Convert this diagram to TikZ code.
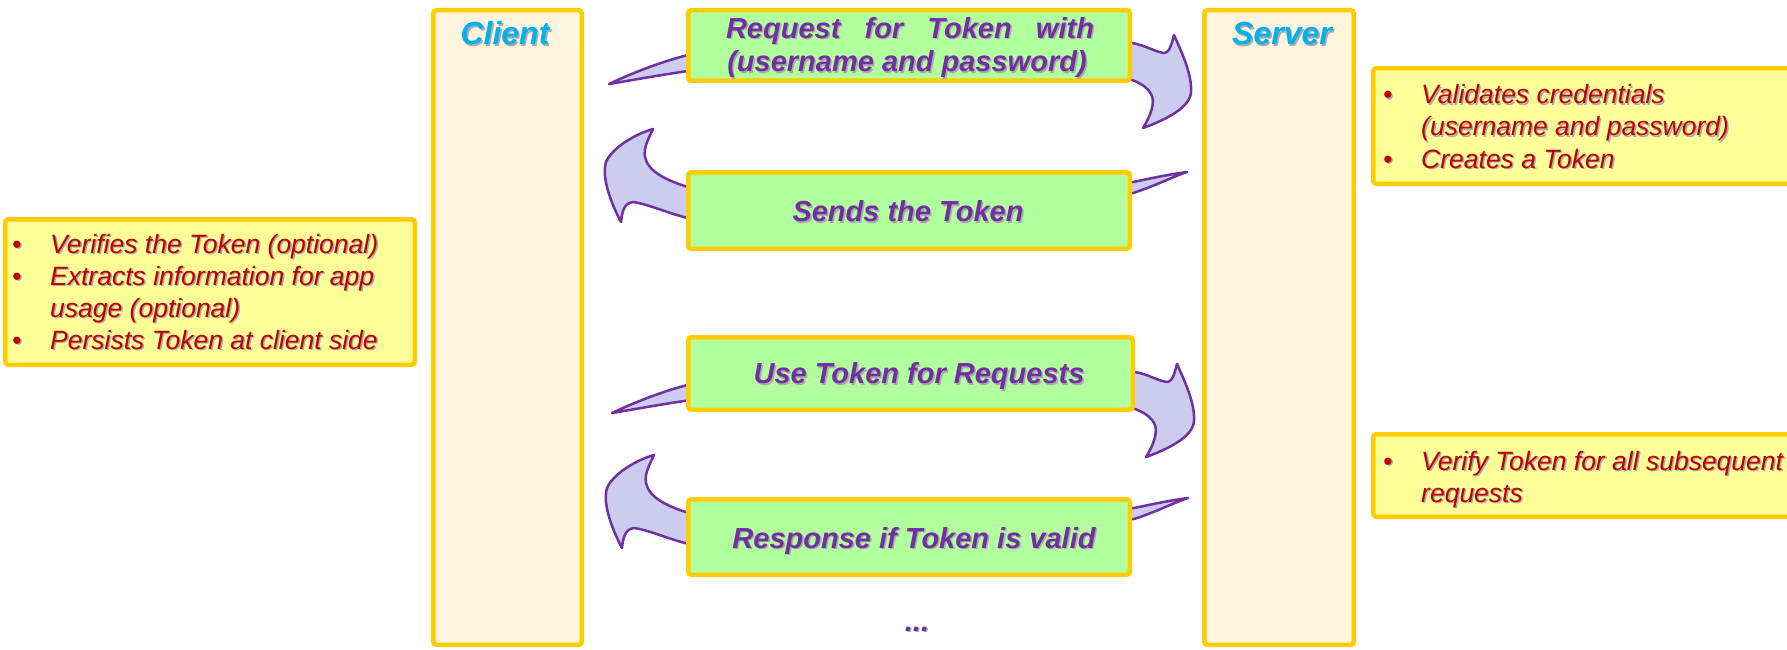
\documentclass[tikz,border=0pt]{standalone}
\usepackage{fontspec}
\setmainfont{Liberation Sans}

\definecolor{goldframe}{RGB}{255,204,0}
\definecolor{lanefill}{RGB}{255,245,220}
\definecolor{stepfill}{RGB}{178,255,158}
\definecolor{notefill}{RGB}{255,255,153}
\definecolor{msgpurple}{RGB}{112,48,160}
\definecolor{arrowfill}{RGB}{204,204,238}
\definecolor{notered}{RGB}{192,0,0}
\definecolor{headblue}{RGB}{0,176,240}
\definecolor{shadowgray}{RGB}{170,170,170}

% text with a soft drop shadow
\newcommand\softshadow[1]{\leavevmode\rlap{\kern1.5pt\raisebox{-1.5pt}{\textcolor{shadowgray}{#1}}}#1}

% curved arrow going from client to server (tail on the left, head bending down on the right)
\newcommand\fwdarrow{(609,84) .. controls (630,74) and (660,62) .. (688,55) -- (1132,43)
  .. controls (1145,45) and (1157,53) .. (1165,53)
  .. controls (1170,52) and (1172,42) .. (1174,35)
  .. controls (1183,55) and (1192,75) .. (1191,92)
  .. controls (1190,108) and (1165,120) .. (1143,128)
  .. controls (1150,117) and (1156,102) .. (1151,94)
  .. controls (1147,87) and (1140,83) .. (1132,80) -- (688,71)
  .. controls (660,75) and (633,80) .. (609,84) -- cycle}

% curved arrow going from server to client (tail on the right, head bending up on the left)
\newcommand\backarrow{(1187,172) .. controls (1165,175) and (1148,179) .. (1133,182) -- (688,187)
  .. controls (668,181) and (648,172) .. (645,157)
  .. controls (643,147) and (650,136) .. (653,129)
  .. controls (635,134) and (612,148) .. (606,162)
  .. controls (601,178) and (612,205) .. (621,222)
  .. controls (622,212) and (624,203) .. (633,202)
  .. controls (648,204) and (670,214) .. (688,218) -- (1133,193)
  .. controls (1155,186) and (1172,177) .. (1187,172) -- cycle}

\tikzset{
  lane/.style={draw=goldframe, line width=4.5pt, fill=lanefill, rounded corners=3pt},
  stepbox/.style={draw=goldframe, line width=4.5pt, fill=stepfill, rounded corners=3pt},
  notebox/.style={draw=goldframe, line width=4.5pt, fill=notefill, rounded corners=3pt},
  flow/.style={draw=msgpurple, line width=2.5pt, fill=arrowfill, line join=round},
  steptext/.style={text=msgpurple, font=\fontsize{29}{34}\selectfont\bfseries\itshape, inner sep=0pt, anchor=base},
  lanetext/.style={text=headblue, font=\fontsize{32}{38}\selectfont\bfseries\itshape, inner sep=0pt, anchor=base},
  notetext/.style={text=notered, font=\fontsize{26.5}{32}\selectfont\itshape, inner sep=0pt, anchor=base west},
}

\begin{document}
\begin{tikzpicture}[x=1pt,y=-1pt]
\clip (0,0) rectangle (1787,650);

% side notes
\node[notebox, minimum width=409.5pt, minimum height=145.5pt] (clientnote) at (210,292) {};
\node[notebox, minimum width=454.5pt, minimum height=115.5pt] (servernote) at (1600.5,126) {};
\node[notebox, minimum width=454.5pt, minimum height=82.5pt] (verifynote) at (1600.5,475.5) {};

% lanes
\node[lane, minimum width=148.5pt, minimum height=634.5pt] (client) at (507.5,327.5) {};
\node[lane, minimum width=149.5pt, minimum height=634.5pt] (server) at (1279,327.5) {};

% message arrows (partly hidden behind the message boxes)
\draw[flow] \fwdarrow;
\draw[flow] \backarrow;
\draw[flow, shift={(3,329)}] \fwdarrow;
\draw[flow, shift={(1,326)}] \backarrow;

% message boxes
\node[stepbox, minimum width=441.5pt, minimum height=70.5pt] (step1) at (909,45.5) {};
\node[stepbox, minimum width=441.5pt, minimum height=76.5pt] (step2) at (909,210.5) {};
\node[stepbox, minimum width=444.5pt, minimum height=72.5pt] (step3) at (910.5,373.5) {};
\node[stepbox, minimum width=441.5pt, minimum height=75.5pt] (step4) at (909,537) {};

% lane titles
\node[lanetext] (clientlbl) at (505,45) {\softshadow{Client}};
\node[lanetext] (serverlbl) at (1282,45) {\softshadow{Server}};

% message texts
\node[steptext] (step1a) at (910,38.5) {\softshadow{\makebox[368pt][s]{Request for Token with}}};
\node[steptext] (step1b) at (907,72) {\softshadow{(username and password)}};
\node[steptext] (step2t) at (908,221.5) {\softshadow{Sends the Token}};
\node[steptext] (step3t) at (919,383.5) {\softshadow{Use Token for Requests}};
\node[steptext] (step4t) at (914,548) {\softshadow{Response if Token is valid}};
\node[steptext] (more) at (917,631) {\softshadow{...}};

% note texts
\node[notetext] (clientnotet) at (12,253) {\begin{tabular}[t]{@{}p{38pt}@{}l@{}}
  \softshadow{•} & \softshadow{Verifies the Token (optional)}\\
  \softshadow{•} & \softshadow{Extracts information for app}\\
                 & \softshadow{usage (optional)}\\
  \softshadow{•} & \softshadow{Persists Token at client side}
\end{tabular}};
\node[notetext] (servernotet) at (1383,104) {\begin{tabular}[t]{@{}p{38pt}@{}l@{}}
  \softshadow{•} & \softshadow{Validates credentials}\\
                 & \softshadow{(username and password)}\\
  \softshadow{•} & \softshadow{Creates a Token}
\end{tabular}};
\node[notetext] (verifynotet) at (1383,470) {\begin{tabular}[t]{@{}p{38pt}@{}l@{}}
  \softshadow{•} & \softshadow{Verify Token for all subsequent}\\
                 & \softshadow{requests}
\end{tabular}};
\end{tikzpicture}
\end{document}
